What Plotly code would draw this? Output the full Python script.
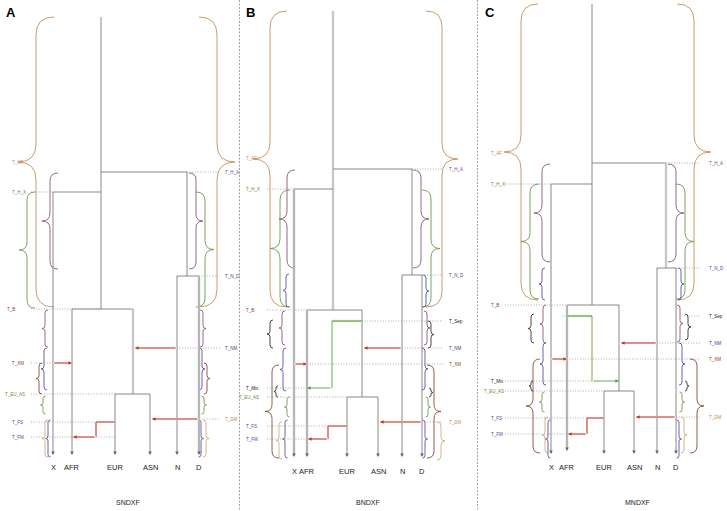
import plotly.graph_objects as go

# ---------------- data ----------------
PANEL_LETTERS = ["A", "B", "C"]
MODEL_NAMES = ["SNDXF", "BNDXF", "MNDXF"]
POP_LABELS = ["X", "AFR", "EUR", "ASN", "N", "D"]

# event heights (top of page = 0) per model
EVENTS = ["top", "T_AF", "T_H_A", "T_H_X", "T_N_D", "T_B", "T_Sep", "T_NM",
          "T_XM", "T_Mix", "T_EU_AS", "T_DM", "T_FS", "T_FM", "end"]
TIMES_A = [17, 162, 172, 192, 276, 309, None, 348, 363, None, 394, 419, 422, 437, 455]
TIMES_B = [11, 158, 169, 189, 275, 310, 321, 348, 364, 388, 397, 422, 426, 439, 457]
TIMES_C = [4, 153, 163, 184, 268, 305, 316, 343, 359, 381, 391, 417, 418, 434, 454]

# lineage slots per model
SLOTS = ["X", "AFR", "EUR", "ASN", "N", "D", "trunk", "EA", "ND", "ghost", "elbow"]
SLOTS_A = [53, 72, 115, 150, 177, 199, 101, 133, 187, None, 96]
SLOTS_B = [294, 307, 347, 378, 402, 422, 333, 362, 412, 332, 328]
SLOTS_C = [551, 567, 604, 634, 657, 676, 592, 619, 666, 592, 587]

LIGHT_SLOTS = [{"EA", "D"}, {"trunk", "X", "AFR"}, {"AFR", "ND"}]
GHOST_ROUTE = [None, ("EA", "AFR"), ("AFR", "EA")]   # (split from, admix into)

# dotted guide extents per panel
GUIDE_LEFT = [31, 267, 505]
GUIDE_RIGHT = [220, 443, 700]

DOTTED_A = [("T_H_X", "L", "X"), ("T_B", "L", "trunk"), ("T_XM", "L", "X"),
            ("T_EU_AS", "L", "EUR"), ("T_FS", "L", "EUR"), ("T_FM", "L", "EUR"),
            ("T_H_A", "ND", "R"), ("T_N_D", "D", "R"), ("T_NM", "N", "R"), ("T_DM", "D", "R")]
DOTTED_B = [("T_H_X", "L", "X"), ("T_B", "L", "AFR"), ("T_Mix", "L", "AFR"),
            ("T_EU_AS", "L", "EUR"), ("T_FS", "L", "EUR"), ("T_FM", "L", "AFR"),
            ("T_H_A", "ND", "R"), ("T_N_D", "D", "R"), ("T_Sep", "EA", "R"),
            ("T_NM", "N", "R"), ("T_XM", "AFR", "R"), ("T_DM", "D", "R")]
DOTTED_C = [("T_H_X", "L", "X"), ("T_B", "L", "AFR"), ("T_Sep", 562, "AFR"), ("T_Sep", 684, "R"),
            ("T_Mix", "L", "ghost"), ("T_EU_AS", "L", "EUR"), ("T_FS", "L", "EUR"),
            ("T_FM", "L", "AFR"), ("T_H_A", "ND", "R"), ("T_N_D", "D", "R"),
            ("T_NM", "N", "R"), ("T_XM", "AFR", "R"), ("T_DM", "D", "R")]

# event labels: (event, side)
LABELS_A = [("T_AF", "L"), ("T_H_X", "L"), ("T_B", "L"), ("T_XM", "L"), ("T_EU_AS", "L"),
            ("T_FS", "L"), ("T_FM", "L"), ("T_H_A", "R"), ("T_N_D", "R"), ("T_NM", "R"), ("T_DM", "R")]
LABELS_B = [("T_AF", "L"), ("T_H_X", "L"), ("T_B", "L"), ("T_Mix", "L"), ("T_EU_AS", "L"),
            ("T_FS", "L"), ("T_FM", "L"), ("T_H_A", "R"), ("T_N_D", "R"), ("T_Sep", "R"),
            ("T_NM", "R"), ("T_XM", "R"), ("T_DM", "R")]
LABELS_C = [("T_AF", "L"), ("T_H_X", "L"), ("T_B", "L"), ("T_Mix", "L"), ("T_EU_AS", "L"),
            ("T_FS", "L"), ("T_FM", "L"), ("T_H_A", "R"), ("T_N_D", "R"), ("T_Sep", "R"),
            ("T_NM", "R"), ("T_XM", "R"), ("T_DM", "R")]
LABEL_LEFT_X = [10, 244, 489]
LABEL_RIGHT_X = [223, 447, 707]

# prior-range braces: (colour, side, y0, y1, spine x, width)
BRACES_A = [("orange", "L", 17, 307, 36, 18), ("purple", "L", 173, 269, 50, 8),
            ("green", "L", 192, 308, 27, 8), ("purple", "L", 310, 347, 45, 3),
            ("blue", "L", 348, 390, 44, 3), ("brown", "L", 363, 394, 39, 3),
            ("green", "L", 396, 414, 43, 2.5), ("tan", "L", 420, 457, 45, 3),
            ("blue", "L", 420, 457, 48, 2.5),
            ("orange", "R", 17, 307, 217, 18), ("purple", "R", 173, 269, 196, 7),
            ("green", "R", 192, 307, 205, 9), ("purple", "R", 310, 347, 203, 3),
            ("blue", "R", 348, 390, 202, 3), ("brown", "R", 363, 394, 207, 3),
            ("green", "R", 396, 414, 204, 2.5), ("blue", "R", 420, 457, 201, 2.5),
            ("tan", "R", 420, 457, 206, 3)]
BRACES_B = [("orange", "L", 11, 307, 270, 17), ("purple", "L", 170, 268, 287, 8),
            ("green", "L", 190, 307, 280, 10), ("blue", "L", 274, 307, 286, 3),
            ("purple", "L", 311, 345, 282, 3), ("black", "L", 320, 348, 270, 3),
            ("blue", "L", 348, 391, 283, 3), ("brown", "L", 365, 458, 272, 7),
            ("black", "L", 386, 397, 276, 2), ("green", "L", 397, 417, 287, 2.5),
            ("tan", "L", 422, 459, 279, 3), ("blue", "L", 420, 458, 285, 2.5),
            ("orange", "R", 11, 307, 442, 16), ("purple", "R", 170, 268, 421, 8),
            ("green", "R", 190, 307, 431, 9), ("blue", "R", 275, 307, 426, 3),
            ("purple", "R", 311, 345, 427, 3), ("black", "R", 321, 348, 431, 3),
            ("blue", "R", 348, 390, 425, 3), ("brown", "R", 365, 458, 434, 7),
            ("black", "R", 388, 397, 431, 2), ("green", "R", 397, 417, 428, 2.5),
            ("blue", "R", 420, 458, 425, 2.5), ("tan", "R", 422, 460, 441, 4)]
BRACES_C = [("orange", "L", 4, 300, 521, 17), ("purple", "L", 164, 262, 542, 8),
            ("green", "L", 184, 299, 530, 9), ("blue", "L", 268, 300, 542, 3),
            ("purple", "L", 305, 343, 543, 3), ("black", "L", 314, 343, 531, 3),
            ("blue", "L", 343, 385, 543, 3), ("brown", "L", 359, 453, 533, 7),
            ("black", "L", 381, 391, 531, 2), ("green", "L", 392, 412, 542, 2.5),
            ("tan", "L", 417, 453, 545, 3), ("blue", "L", 420, 458, 548, 2.5),
            ("orange", "R", 4, 300, 694, 17), ("purple", "R", 164, 262, 676, 8),
            ("green", "R", 184, 299, 685, 9), ("blue", "R", 268, 300, 681, 3),
            ("purple", "R", 305, 342, 680, 3), ("black", "R", 314, 340, 688, 3),
            ("blue", "R", 343, 385, 682, 3), ("brown", "R", 359, 453, 697, 7),
            ("black", "R", 381, 391, 687, 2), ("green", "R", 392, 412, 682, 2.5),
            ("tan", "R", 417, 453, 684, 3), ("blue", "R", 420, 458, 679, 2.5)]

PANEL_LETTER_X = [4, 244, 483]
MODEL_NAME_X = [128, 368, 637]
SEPARATORS = [239.5, 477.5]

# ---------------- styles ----------------
COL = {"orange": "#c68f58", "purple": "#8c557f", "green": "#6f9a4c", "blue": "#5b50a8",
       "brown": "#8c4a3c", "tan": "#d6ab7c", "black": "#333333"}
LABEL_COL = {"T_AF": "#c08a52", "T_H_A": "#8c4a7a", "T_H_X": "#5f8c3c", "T_N_D": "#4a46a0",
             "T_B": "#8c3a3a", "T_Sep": "#222222", "T_NM": "#3c3a9a", "T_XM": "#8c3a2c",
             "T_Mix": "#222222", "T_EU_AS": "#5f8c3c", "T_DM": "#c08a52", "T_FS": "#4a46a0",
             "T_FM": "#4a46a0"}
DARK = "#7a7a7a"
LIGHT = "#c8c8c8"
RED = "#c0392b"
RED_HALO = "#f6d6d3"
GHOST = "#6a9a40"
FONT = "Liberation Sans, Arial, sans-serif"
DOT = "1px,1.6px"

shapes = []
annots = []


def line(x0, y0, x1, y1, color, width=1.0, dash=None):
    d = dict(type="line", xref="x", yref="y", x0=x0, y0=y0, x1=x1, y1=y1,
             line=dict(color=color, width=width), layer="above")
    if dash:
        d["line"]["dash"] = dash
    shapes.append(d)


def arrow(x0, y0, x1, y1, color, width=1.0, size=1.0):
    annots.append(dict(x=x1, y=y1, ax=x0, ay=y0, xref="x", yref="y", axref="x", ayref="y",
                       text="", showarrow=True, arrowhead=2, arrowsize=size,
                       arrowwidth=width, arrowcolor=color, standoff=0, startstandoff=0))


def red_arrow(x0, y0, x1, y1):
    line(x0, y0, x1, y1, RED_HALO, 2.0)
    arrow(x0, y0, x1, y1, RED, 0.9, 0.8)


def brace(color, side, y0, y1, xs, w):
    d = -1 if side == "L" else 1
    xe = xs - d * w
    xt = xs + d * w
    ym = (y0 + y1) / 2.0
    r = min(w, (y1 - y0) / 4.0)
    p = (f"M{xe},{y0} Q{xs},{y0} {xs},{y0 + r} L{xs},{ym - r} Q{xs},{ym} {xt},{ym} "
         f"Q{xs},{ym} {xs},{ym + r} L{xs},{y1 - r} Q{xs},{y1} {xe},{y1}")
    shapes.append(dict(type="path", xref="x", yref="y", path=p,
                       line=dict(color=COL[color], width=0.9), layer="above"))


def text(x, y, s, size, color, xanchor="left", bold=False):
    annots.append(dict(x=x, y=y, xref="x", yref="y", text=f"<b>{s}</b>" if bold else s,
                       showarrow=False, xanchor=xanchor, yanchor="middle",
                       font=dict(size=size, color=color, family=FONT)))


ALL_TIMES = [TIMES_A, TIMES_B, TIMES_C]
ALL_SLOTS = [SLOTS_A, SLOTS_B, SLOTS_C]
ALL_DOTTED = [DOTTED_A, DOTTED_B, DOTTED_C]
ALL_LABELS = [LABELS_A, LABELS_B, LABELS_C]
ALL_BRACES = [BRACES_A, BRACES_B, BRACES_C]

for p in range(3):
    T = dict(zip(EVENTS, ALL_TIMES[p]))
    S = dict(zip(SLOTS, ALL_SLOTS[p]))
    light = LIGHT_SLOTS[p]

    def vstyle(slot):
        return (LIGHT, 2.4) if slot in light else (DARK, 0.9)

    # dotted guides (drawn first)
    for ev, a, b in ALL_DOTTED[p]:
        xa = GUIDE_LEFT[p] if a == "L" else (S[a] if isinstance(a, str) else a)
        xb = GUIDE_RIGHT[p] if b == "R" else (S[b] if isinstance(b, str) else b)
        line(xa, T[ev], xb, T[ev], "#9a9a9a", 0.8, DOT)

    # braces
    for br in ALL_BRACES[p]:
        brace(*br)

    # tree
    c, w = vstyle("trunk")
    line(S["trunk"], T["top"], S["trunk"], T["T_B"], c, w)
    line(S["trunk"], T["T_H_A"], S["ND"], T["T_H_A"], DARK, 0.9)
    c, w = vstyle("ND")
    line(S["ND"], T["T_H_A"], S["ND"], T["T_N_D"], c, w)
    line(S["N"], T["T_N_D"], S["D"], T["T_N_D"], DARK, 0.9)
    line(S["X"], T["T_H_X"], S["trunk"], T["T_H_X"], DARK, 0.9)
    line(S["AFR"], T["T_B"], S["EA"], T["T_B"], DARK, 0.9)
    c, w = vstyle("EA")
    line(S["EA"], T["T_B"], S["EA"], T["T_EU_AS"], c, w)
    line(S["EUR"], T["T_EU_AS"], S["ASN"], T["T_EU_AS"], DARK, 0.9)
    starts = {"X": T["T_H_X"], "AFR": T["T_B"], "EUR": T["T_EU_AS"],
              "ASN": T["T_EU_AS"], "N": T["T_N_D"], "D": T["T_N_D"]}
    for pop in POP_LABELS:
        c, w = vstyle(pop)
        end = T["end"] - (3 if pop == "AFR" and p == 2 else 0)
        line(S[pop], starts[pop], S[pop], end - 3, c, w)
        if c == LIGHT:
            line(S[pop], starts[pop], S[pop], end - 3, "#8a8a8a", 0.6)
        arrow(S[pop], end - 4, S[pop], end, "#666666", 0.8, 0.9)
        text(S[pop], 467 + (4 if p == 1 else 0), pop, 7.5, "#222222", "center")

    # ghost lineage
    if GHOST_ROUTE[p]:
        src, dst = GHOST_ROUTE[p]
        line(S[src], T["T_Sep"], S["ghost"], T["T_Sep"], "#c9dcb8", 2.4)
        line(S[src], T["T_Sep"], S["ghost"], T["T_Sep"], GHOST, 0.9)
        line(S["ghost"], T["T_Sep"], S["ghost"], T["T_Mix"], GHOST, 0.9)
        arrow(S["ghost"], T["T_Mix"], S[dst], T["T_Mix"], GHOST, 0.9, 0.8)

    # admixture pulses
    red_arrow(S["N"], T["T_NM"], S["EA"] + 2, T["T_NM"])
    red_arrow(S["X"], T["T_XM"], S["AFR"], T["T_XM"])
    red_arrow(S["D"], T["T_DM"], S["ASN"] + 2, T["T_DM"])
    line(S["EUR"], T["T_FS"], S["elbow"], T["T_FS"], RED_HALO, 2.0)
    line(S["elbow"], T["T_FS"], S["elbow"], T["T_FM"], RED_HALO, 2.0)
    line(S["EUR"], T["T_FS"], S["elbow"], T["T_FS"], RED, 0.9)
    line(S["elbow"], T["T_FS"], S["elbow"], T["T_FM"], RED, 0.9)
    red_arrow(S["elbow"], T["T_FM"], S["AFR"] + 1, T["T_FM"])

    # event labels
    for ev, side in ALL_LABELS[p]:
        x = LABEL_LEFT_X[p] if side == "L" else LABEL_RIGHT_X[p]
        if ev == "T_EU_AS" and side == "L":
            x -= 7
        if ev == "T_B" and p == 0:
            x -= 5
        text(x, T[ev], ev, 4.5, LABEL_COL[ev])

    text(PANEL_LETTER_X[p], 12, PANEL_LETTERS[p], 13, "#000000", bold=True)
    text(MODEL_NAME_X[p], 502, MODEL_NAMES[p], 7, "#222222", "center")

for xs in SEPARATORS:
    line(xs, 0, xs, 511, "#8a8a8a", 0.8, "2px,1.5px")

fig = go.Figure()
fig.add_trace(go.Scatter(x=[0, 727], y=[0, 511], mode="markers",
                         marker=dict(opacity=0), hoverinfo="skip", showlegend=False))
fig.update_layout(
    width=727, height=511, margin=dict(l=0, r=0, t=0, b=0),
    paper_bgcolor="white", plot_bgcolor="white",
    xaxis=dict(range=[0, 727], visible=False, fixedrange=True),
    yaxis=dict(range=[511, 0], visible=False, fixedrange=True),
    shapes=shapes, annotations=annots, showlegend=False,
)
fig.write_html("out.html", config={"displayModeBar": False},
               post_script="document.body.style.margin='0';document.body.style.overflow='hidden';")
